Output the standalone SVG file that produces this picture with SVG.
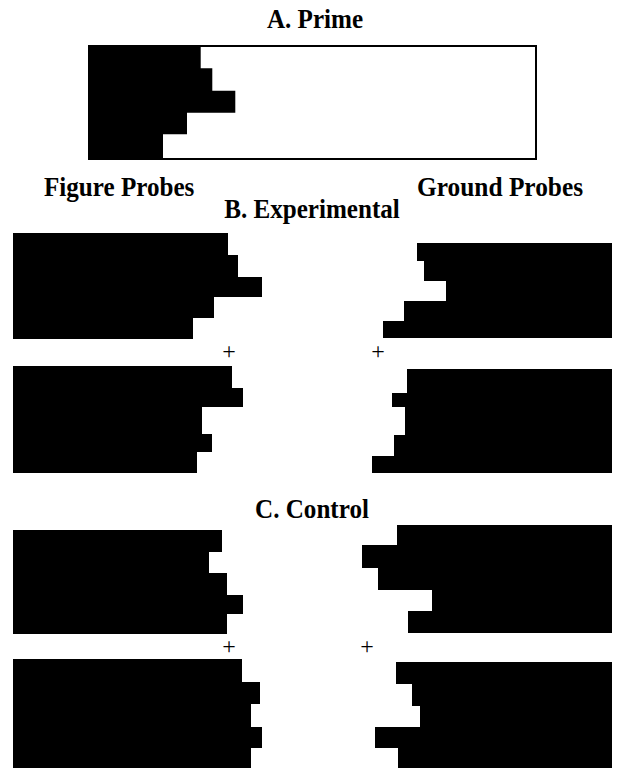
<svg xmlns="http://www.w3.org/2000/svg" width="621" height="770" viewBox="0 0 621 770">
<style>
.lbl{font-family:"Liberation Serif","Times New Roman",serif;font-weight:bold;font-size:27px;fill:#000}
.plus{font-family:"Liberation Serif","Times New Roman",serif;font-size:24px;fill:#000;text-anchor:middle}
.blk{fill:#000;stroke:none}
</style>
<rect width="621" height="770" fill="#fff"/>
<g id="titles">
<text class="lbl" transform="translate(315,28) scale(0.93,1)" text-anchor="middle">A. Prime</text>
<text class="lbl" transform="translate(44,196) scale(0.93,1)">Figure Probes</text>
<text class="lbl" transform="translate(417,196) scale(0.94,1)">Ground Probes</text>
<text class="lbl" transform="translate(312,218) scale(0.93,1)" text-anchor="middle">B. Experimental</text>
<text class="lbl" transform="translate(312,518) scale(0.93,1)" text-anchor="middle">C. Control</text>
</g>
<g id="prime">
<rect x="89" y="46" width="447" height="113" fill="#fff" stroke="#000" stroke-width="2"/>
<path class="blk" d="M88,45 H200.7 V68.3 H212.3 V90.7 H235.3 V112.7 H187 V134.3 H163 V160 H88 Z"/>
</g>
<g id="fig-exp-1"><path class="blk" d="M13,233 H228 V255 H238 V277 H262 V297 H214 V318 H193 V339 H13 Z"/></g>
<g id="gnd-exp-1"><path class="blk" d="M417,243 H612 V338 H383 V321 H404 V301 H446 V281 H424 V261 H417 Z"/></g>
<g id="fig-exp-2"><path class="blk" d="M13,366 H232 V388 H243 V407 H202 V434 H212 V452 H197 V473 H13 Z"/></g>
<g id="gnd-exp-2"><path class="blk" d="M407,369 H612 V473 H372 V456 H394 V435 H405 V407 H392 V393 H407 Z"/></g>
<g id="fig-ctl-1"><path class="blk" d="M13,530 H222 V552 H209 V573 H227 V595 H243 V614 H227 V634 H13 Z"/></g>
<g id="gnd-ctl-1"><path class="blk" d="M397,525 H612 V633 H408 V611 H432 V590 H378 V568 H362 V545 H397 Z"/></g>
<g id="fig-ctl-2"><path class="blk" d="M13,659 H242 V682 H260 V704 H251 V727 H262 V748 H251 V768 H13 Z"/></g>
<g id="gnd-ctl-2"><path class="blk" d="M396,662 H612 V768 H398 V748 H375 V727 H420 V706 H412 V684 H396 Z"/></g>
<g id="fixations">
<text class="plus" x="229" y="359">+</text>
<text class="plus" x="378" y="359">+</text>
<text class="plus" x="229" y="654">+</text>
<text class="plus" x="367" y="654">+</text>
</g>
<g id="connectors"/>
</svg>
